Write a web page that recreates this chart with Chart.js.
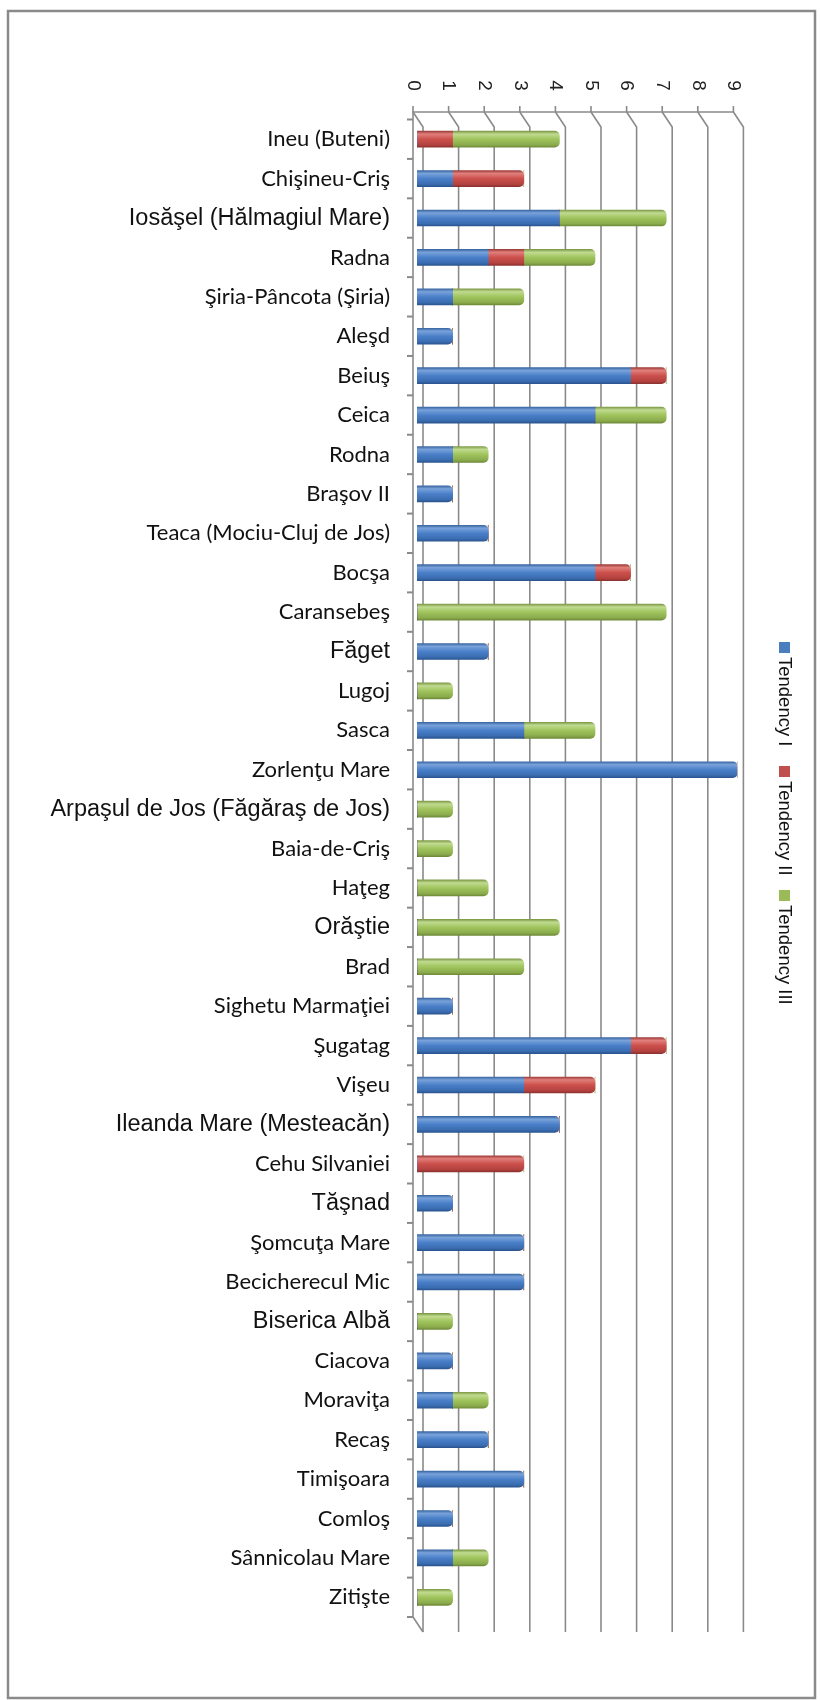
<!DOCTYPE html>
<html>
<head>
<meta charset="utf-8">
<script src="https://cdn.jsdelivr.net/npm/chart.js@4.4.1/dist/chart.umd.min.js"></script>
<style>
  html, body { margin: 0; padding: 0; background: #fff; }
  #wrap { width: 820px; height: 1700px; }
</style>
</head>
<body>
<div id="wrap"><canvas id="chart" width="820" height="1700"></canvas></div>
<script>
const categories = [
  'Ineu (Buteni)', 'Chişineu-Criş', 'Iosăşel (Hălmagiul Mare)', 'Radna', 'Şiria-Pâncota (Şiria)',
  'Aleşd', 'Beiuş', 'Ceica', 'Rodna', 'Braşov II', 'Teaca (Mociu-Cluj de Jos)', 'Bocşa',
  'Caransebeş', 'Făget', 'Lugoj', 'Sasca', 'Zorlenţu Mare', 'Arpaşul de Jos (Făgăraş de Jos)',
  'Baia-de-Criş', 'Haţeg', 'Orăştie', 'Brad', 'Sighetu Marmaţiei', 'Şugatag', 'Vişeu',
  'Ileanda Mare (Mesteacăn)', 'Cehu Silvaniei', 'Tăşnad', 'Şomcuţa Mare', 'Becicherecul Mic',
  'Biserica Albă', 'Ciacova', 'Moraviţa', 'Recaş', 'Timişoara', 'Comloş', 'Sânnicolau Mare', 'Zitişte'
];
const tendencyI   = [0, 1, 4, 2, 1, 1, 6, 5, 1, 1, 2, 5, 0, 2, 0, 3, 9, 0, 0, 0, 0, 0, 1, 6, 3, 4, 0, 1, 3, 3, 0, 1, 1, 2, 3, 1, 1, 0];
const tendencyII  = [1, 2, 0, 1, 0, 0, 1, 0, 0, 0, 0, 1, 0, 0, 0, 0, 0, 0, 0, 0, 0, 0, 0, 1, 2, 0, 3, 0, 0, 0, 0, 0, 0, 0, 0, 0, 0, 0];
const tendencyIII = [3, 0, 3, 2, 2, 0, 0, 2, 1, 0, 0, 0, 7, 0, 1, 2, 0, 1, 1, 2, 4, 3, 0, 0, 0, 0, 0, 0, 0, 0, 1, 0, 1, 0, 0, 0, 1, 1];
const seriesNames = ['Tendency I', 'Tendency II', 'Tendency III'];
const valueTicks = [0, 1, 2, 3, 4, 5, 6, 7, 8, 9];
// labels that were typed in Arial in the original sheet
const arialLabels = ['Iosăşel (Hălmagiul Mare)', 'Făget', 'Arpaşul de Jos (Făgăraş de Jos)', 'Orăştie',
  'Ileanda Mare (Mesteacăn)', 'Tăşnad', 'Biserica Albă'];

const ARIAL = '"Liberation Sans", Arial, sans-serif';
const CALIBRI = 'Lato, "Open Sans", sans-serif';
const GRID = '#8a8a8a';
const BAR_H = 16;

const palette = [
  { key: '#4a7ebf', stops: ['#3a67a3', '#79a2da', '#4a80c9', '#3a6cb0', '#2b5590'] },
  { key: '#c0504d', stops: ['#a03e3b', '#e07f7b', '#cc504c', '#b3423f', '#8e3230'] },
  { key: '#9bbb59', stops: ['#7f9b47', '#c0db90', '#a0c45d', '#8bab4c', '#6f8b3a'] }
];

function cylinder(p) {
  return (c) => {
    const chart = c.chart;
    if (!chart.chartArea || c.dataIndex === undefined) return p.key;
    const yc = chart.scales.y.getPixelForValue(c.dataIndex);
    const g = chart.ctx.createLinearGradient(0, yc - BAR_H / 2, 0, yc + BAR_H / 2);
    g.addColorStop(0, p.stops[0]);
    g.addColorStop(0.18, p.stops[1]);
    g.addColorStop(0.5, p.stops[2]);
    g.addColorStop(0.85, p.stops[3]);
    g.addColorStop(1, p.stops[4]);
    return g;
  };
}

// 3D-ish walls, axes, rotated tick numbers, frame and legend
const decor = {
  id: 'decor',
  beforeDraw(chart) {
    const c = chart.ctx;
    c.save();
    c.fillStyle = '#fff';
    c.fillRect(0, 0, chart.width, chart.height);
    c.strokeStyle = '#8a8a8a';
    c.lineWidth = 2.5;
    c.strokeRect(8, 11, chart.width - 13, chart.height - 13);
    c.restore();
  },
  beforeDatasetsDraw(chart) {
    const c = chart.ctx, x = chart.scales.x, y = chart.scales.y, a = chart.chartArea;
    const front = -4, back = 6, depth = 15;
    const axisY = a.top - 7.5, floorY = a.bottom + depth;
    c.save();
    c.strokeStyle = GRID;
    c.lineWidth = 1.6;
    valueTicks.forEach(v => {
      const px = x.getPixelForValue(v);
      c.beginPath();
      c.moveTo(px + front, axisY);
      c.lineTo(px + back, axisY + depth);
      c.lineTo(px + back, floorY);
      c.stroke();
      c.beginPath();
      c.moveTo(px + front, axisY - 6);
      c.lineTo(px + front, axisY);
      c.stroke();
    });
    const x0 = x.getPixelForValue(valueTicks[0]), x9 = x.getPixelForValue(valueTicks[valueTicks.length - 1]);
    c.beginPath();
    c.moveTo(x9 + front, axisY);
    c.lineTo(x0 + front, axisY);
    c.lineTo(x0 + front, a.bottom);
    c.lineTo(x0 + back, floorY);
    c.stroke();
    // category tick marks between rows
    c.lineWidth = 2;
    const step = y.getPixelForValue(1) - y.getPixelForValue(0);
    for (let i = 0; i <= categories.length; i++) {
      const yb = y.getPixelForValue(i) - step / 2;
      c.beginPath();
      c.moveTo(x0 + front - 6, yb);
      c.lineTo(x0 + front, yb);
      c.stroke();
    }
    c.restore();
  },
  afterDraw(chart) {
    const c = chart.ctx, x = chart.scales.x, a = chart.chartArea;
    c.save();
    c.fillStyle = '#222';
    c.font = '19px ' + ARIAL;
    c.textAlign = 'center';
    c.textBaseline = 'middle';
    valueTicks.forEach(v => {
      c.save();
      c.translate(x.getPixelForValue(v) - 4, a.top - 34);
      c.rotate(Math.PI / 2);
      c.fillText(String(v), 0, 0);
      c.restore();
    });
    // vertical legend, read from top to bottom
    const lx = 784;
    let ly = 642;
    c.textAlign = 'left';
    c.font = '18.5px ' + ARIAL;
    seriesNames.forEach((name, i) => {
      c.fillStyle = palette[i].key;
      c.fillRect(lx - 5, ly, 11, 11);
      c.save();
      c.translate(lx, ly + 15);
      c.rotate(Math.PI / 2);
      c.fillStyle = '#111';
      c.fillText(name, 0, 0);
      c.restore();
      ly += 124;
    });
    c.restore();
  }
};

const seriesData = [tendencyI, tendencyII, tendencyIII];

new Chart(document.getElementById('chart'), {
  type: 'bar',
  data: {
    labels: categories,
    datasets: seriesNames.map((name, i) => ({
      label: name,
      data: seriesData[i],
      backgroundColor: cylinder(palette[i]),
      borderWidth: 0,
      borderRadius: 5,
      barThickness: BAR_H
    }))
  },
  options: {
    indexAxis: 'y',
    responsive: false,
    animation: false,
    devicePixelRatio: 1,
    layout: { padding: { left: 0, right: 82.6, top: 119.5, bottom: 83 } },
    plugins: { legend: { display: false }, tooltip: { enabled: false } },
    scales: {
      x: { type: 'linear', stacked: true, min: 0, max: 9, display: false },
      y: {
        stacked: true,
        grid: { display: false, drawTicks: false },
        border: { display: false },
        afterFit(scale) { scale.width = 417; },
        ticks: {
          autoSkip: false,
          padding: 27,
          color: '#111',
          font: (c) => {
            const label = categories[c.index];
            return arialLabels.includes(label)
              ? { family: ARIAL, size: 23.5 }
              : { family: CALIBRI, size: 22 };
          }
        }
      }
    }
  },
  plugins: [decor]
});
</script>
</body>
</html>
